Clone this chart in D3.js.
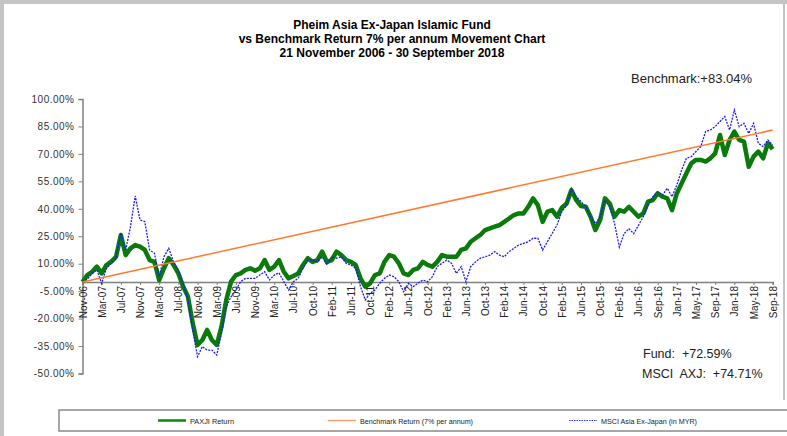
<!DOCTYPE html>
<html lang="en">
<head>
<meta charset="UTF-8"/>
<title>Pheim Asia Ex-Japan Islamic Fund</title>
<script src="https://d3js.org/d3.v7.min.js"></script>
<style>
  body { margin: 0; background: #fff; }
  svg { display: block; font-family: "Liberation Sans", Arial, sans-serif; }
</style>
</head>
<body>
<div id="chart"></div>
<script>
// x axis category labels (evenly spaced on the chart)
var tickLabels = ["Nov-06","Mar-07","Jul-07","Nov-07","Mar-08","Jul-08","Nov-08","Mar-09","Jul-09",
  "Nov-09","Mar-10","Jul-10","Oct-10","Feb-11","Jun-11","Oct-11","Feb-12","Jun-12","Oct-12",
  "Feb-13","Jun-13","Oct-13","Feb-14","Jun-14","Oct-14","Feb-15","Jun-15","Oct-15","Feb-16",
  "Jun-16","Sep-16","Jan-17","May-17","Sep-17","Jan-18","May-18","Sep-18"];

// y ticks (%)
var yTicks = [100, 85, 70, 55, 40, 25, 10, -5, -20, -35, -50];

// cumulative returns (%), 4 readings per tick interval
var fundValues = [
  0, 3.8, 5.6, 8.4,
  4.7, 9.3, 11.1, 13.8,
  25.7, 14.7, 18.4, 20.2,
  19.3, 17.5, 12, 11,
  1, 7.5, 13, 9.3,
  4.7, -2.5, -8, -22.6,
  -34.4, -31.7, -26.2, -31.7,
  -34.4, -24.4, -9.8, 0.2,
  3.8, 4.7, 6.6, 7.5,
  6.2, 7.5, 12, 6.6,
  8.4, 12, 5.6, 2,
  3.3, 4.7, 9.3, 13,
  11, 12, 16.6, 11,
  12, 16.6, 14.7, 12,
  11, 9.3, 2, -2.5,
  -0.7, 3.8, 4.7, 11,
  14.7, 13.8, 10.2, 4.7,
  3.8, 6.6, 7.5, 11,
  9.3, 8.4, 11, 14.7,
  13.8, 13.8, 13.8, 17.5,
  18.4, 22, 23.9, 25.7,
  28.4, 29.3, 30.2, 31.1,
  32.9, 34.7, 36.6, 37.5,
  37.5, 41.1, 45.7, 42,
  32.9, 38.4, 39.3, 35.7,
  40.6, 42.9, 50.2, 44.8,
  41.5, 41.1, 35.7, 28.4,
  33.9, 45.7, 42.9, 35.7,
  39.3, 38.4, 41.1, 38.4,
  35.7, 37.5, 43.9, 44.8,
  48.4, 46.6, 45.7, 39.3,
  48.4, 53.9, 59.4, 64.8,
  66.7, 66.7, 65.8, 67.6,
  70.3, 80.3, 69.4, 77.6,
  82.2, 77.6, 76.7, 63,
  68.5, 71.3, 67.6, 75.8,
  72.59
];

var msciValues = [
  0, 1.5, 4.7, 6.6,
  -0.8, 7.5, 10.2, 13,
  26.6, 17.5, 30, 47,
  33.9, 33, 17.5, 15.8,
  3, 13.8, 18.4, 11,
  6.6, -0.7, -9.8, -26.2,
  -40.8, -35.3, -37.2, -37.2,
  -39.9, -28, -13.5, -8,
  -4.4, 0.2, 2, 2,
  2, 3.8, 5.6, 1.1,
  3.8, 5, 0.2, -4.4,
  0.2, 2, 7.5, 12,
  12, 11, 13.8, 9.3,
  13.8, 13, 13.8, 10.2,
  9.3, 7.5, -2.5, -9.8,
  -6.2, -4.4, -0.7, 2,
  3.8, 2.9, 0.2, -5.3,
  -0.7, -2.5, -0.7, 1.1,
  0.2, 2.9, 8.4, 10.2,
  12, 10.2, 4.7, 8.4,
  0.2, 8.4, 11, 13,
  13.8, 14.7, 16.6, 14.7,
  13.8, 16.6, 18.4, 20.2,
  21.1, 22, 23.9, 23.9,
  17.5, 22, 26.6, 31.1,
  38.4, 42, 51.2, 46.6,
  44, 41.1, 35.7, 32,
  35.7, 44.8, 41.1, 32,
  19.1, 26.4, 29.1, 26.4,
  31, 35.7, 42, 46.6,
  49.3, 47.5, 51.2, 46.6,
  53, 61.2, 67.6, 68.5,
  71.3, 74, 82.2, 83.1,
  84.9, 87.7, 90.4, 83.1,
  94, 84.9, 86.7, 81.2,
  86.7, 75.8, 74, 77.6,
  74.71
];

// benchmark 7% p.a.: start and end of the period
var benchmarkValues = [0, 83.04];

var legendLabels = ["PAXJI Return", "Benchmark Return (7% per annum)", "MSCI Asia Ex-Japan (in MYR)"];
var titleLines = ["Pheim Asia Ex-Japan Islamic Fund",
  "vs Benchmark Return 7% per annum Movement Chart",
  "21 November 2006 - 30 September 2018"];

var w = 787, h = 436;
var svg = d3.select("#chart").append("svg").attr("width", w).attr("height", h);

// frame
svg.append("rect").attr("x", 0).attr("y", 0).attr("width", 4).attr("height", h).attr("fill", "#c4c4c4");
svg.append("rect").attr("x", 0).attr("y", 0).attr("width", w).attr("height", 4).attr("fill", "#c4c4c4");
svg.append("rect").attr("x", 783).attr("y", 0).attr("width", 2).attr("height", 400).attr("fill", "#c4c4c4");

// title
svg.selectAll(".title")
  .data(titleLines)
  .enter()
  .append("text")
  .attr("x", 392)
  .attr("y", function (d, i) { return 29 + i * 14; })
  .attr("text-anchor", "middle")
  .attr("font-size", "12px")
  .attr("font-weight", "bold")
  .attr("fill", "#000")
  .text(function (d) { return d; });

var nPerTick = 4;
var xTick = d3.scaleLinear().domain([0, tickLabels.length - 1]).range([82.5, 772.7]);
var x = d3.scaleLinear().domain([0, fundValues.length - 1]).range([82.5, 772.7]);
var y = d3.scaleLinear().domain([-50, 100]).range([373.5, 99]);

// y axis
var yAxis = d3.axisLeft(y)
  .tickValues(yTicks)
  .tickSize(4)
  .tickFormat(function (d) { return d.toFixed(2) + "%"; });
var gy = svg.append("g").attr("transform", "translate(82.5,0)").call(yAxis);
gy.select(".domain").attr("stroke", "#808080").attr("stroke-width", 1.5);
gy.selectAll(".tick line").attr("stroke", "#808080");
gy.selectAll(".tick text")
  .attr("font-size", "10px")
  .attr("letter-spacing", "0.5px")
  .attr("fill", "#333")
  .attr("x", -8);

// x axis at 0%
var xAxis = d3.axisBottom(xTick)
  .tickValues(d3.range(tickLabels.length))
  .tickSize(3)
  .tickFormat(function (d) { return tickLabels[d]; });
var gx = svg.append("g").attr("transform", "translate(0," + y(0) + ")").call(xAxis);
gx.select(".domain").attr("stroke", "#808080").attr("stroke-width", 1.5);
gx.selectAll(".tick line").attr("stroke", "#808080");
gx.selectAll(".tick text")
  .attr("font-size", "10px")
  .attr("fill", "#222")
  .attr("text-anchor", "end")
  .attr("transform", "rotate(-90)")
  .attr("x", -4)
  .attr("y", 0)
  .attr("dy", "0.35em");

var line = d3.line()
  .x(function (d, i) { return x(i); })
  .y(function (d) { return y(d); });

svg.append("path")
  .datum(fundValues)
  .attr("d", line)
  .attr("fill", "none")
  .attr("stroke", "#0a7a0a")
  .attr("stroke-width", 4.5)
  .attr("stroke-linejoin", "round");

svg.append("path")
  .datum(msciValues)
  .attr("d", line)
  .attr("fill", "none")
  .attr("stroke", "#1a1aff")
  .attr("stroke-width", 1.3)
  .attr("stroke-dasharray", "2,1.2");

svg.append("path")
  .datum(benchmarkValues)
  .attr("d", d3.line()
    .x(function (d, i) { return i === 0 ? x(0) : x(fundValues.length - 1); })
    .y(function (d) { return y(d); }))
  .attr("fill", "none")
  .attr("stroke", "#ff7a30")
  .attr("stroke-width", 1.5);

// end-of-period annotations
svg.append("text").attr("x", 631).attr("y", 83).attr("font-size", "13px").attr("fill", "#222")
  .text("Benchmark:+" + benchmarkValues[1].toFixed(2) + "%");
svg.append("text").attr("x", 643).attr("y", 358).attr("font-size", "12.5px").attr("fill", "#222")
  .attr("xml:space", "preserve")
  .text("Fund:  +" + fundValues[fundValues.length - 1].toFixed(2) + "%");
svg.append("text").attr("x", 642).attr("y", 378).attr("font-size", "12.5px").attr("fill", "#222")
  .attr("xml:space", "preserve")
  .text("MSCI  AXJ:  +" + msciValues[msciValues.length - 1].toFixed(2) + "%");

// legend
svg.append("rect")
  .attr("x", 59).attr("y", 410).attr("width", 740).attr("height", 21)
  .attr("fill", "none").attr("stroke", "#8a8a8a").attr("stroke-width", 1.5);

var legendItems = [
  { label: legendLabels[0], color: "#0a8a0a", dash: null, width: 2.5, x: 158, tw: 44 },
  { label: legendLabels[1], color: "#ffa070", dash: null, width: 1.5, x: 328, tw: 113 },
  { label: legendLabels[2], color: "#3333ff", dash: "1.5,1", width: 1, x: 569, tw: 96 }
];
var lg = svg.selectAll(".legend").data(legendItems).enter().append("g");
lg.append("line")
  .attr("x1", function (d) { return d.x; })
  .attr("x2", function (d) { return d.x + 28; })
  .attr("y1", 420.5).attr("y2", 420.5)
  .attr("stroke", function (d) { return d.color; })
  .attr("stroke-width", function (d) { return d.width; })
  .attr("stroke-dasharray", function (d) { return d.dash; });
lg.append("text")
  .attr("x", function (d) { return d.x + 32; })
  .attr("y", 423.5)
  .attr("font-size", "8px")
  .attr("fill", "#222")
  .attr("textLength", function (d) { return d.tw; })
  .attr("lengthAdjust", "spacingAndGlyphs")
  .text(function (d) { return d.label; });
</script>
</body>
</html>
